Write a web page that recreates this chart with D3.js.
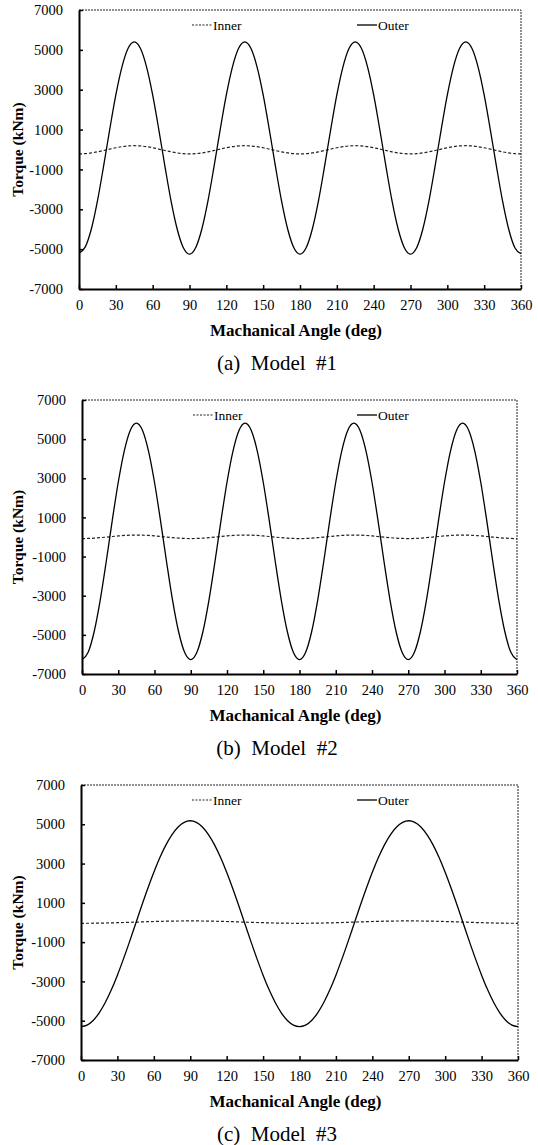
<!DOCTYPE html>
<html><head><meta charset="utf-8">
<script src="https://cdn.jsdelivr.net/npm/d3@7"></script>
<style>
html,body{margin:0;padding:0;background:#fff;}
svg text{font-family:"Liberation Serif","Times New Roman",serif;fill:#000;}
</style></head>
<body>
<svg id="chart" width="538" height="1145"></svg>
<script>
// ---------- data ----------
const angles = d3.range(0, 361, 5); // mechanical angle samples (deg)
const xTicks = [0,30,60,90,120,150,180,210,240,270,300,330,360];
const yTicks = [7000,5000,3000,1000,-1000,-3000,-5000,-7000];
const seriesNames = ["Inner","Outer"];
const captions = ["(a)  Model  #1","(b)  Model  #2","(c)  Model  #3"];

const outer1 = [-5200,-4900,-4000,-2590,-850,1000,2740,4150,5080,5400,5080,4150,2740,1000,-850,-2590,-4000,-4930,
  -5250,-4930,-4000,-2590,-850,1000,2740,4150,5080,5400,5080,4150,2740,1000,-850,-2590,-4000,-4930,
  -5250,-4930,-4000,-2590,-850,1000,2740,4150,5080,5400,5080,4150,2740,1000,-850,-2590,-4000,-4930,
  -5250,-4930,-4000,-2590,-850,1000,2740,4150,5080,5400,5080,4150,2740,1000,-850,-2590,-4000,-4930,-5230];
const inner1 = [-220,-208,-172,-118,-51,21,88,142,178,190,178,142,88,21,-51,-118,-172,-208,
  -220,-208,-172,-118,-51,21,88,142,178,190,178,142,88,21,-51,-118,-172,-208,
  -220,-208,-172,-118,-51,21,88,142,178,190,178,142,88,21,-51,-118,-172,-208,
  -220,-208,-172,-118,-51,21,88,142,178,190,178,142,88,21,-51,-118,-172,-208,-220];
const outer2 = [-6270,-5907,-4855,-3248,-1277,827,2798,4405,5457,5820,5457,4405,2798,827,-1277,-3248,-4855,-5907,
  -6270,-5907,-4855,-3248,-1277,827,2798,4405,5457,5820,5457,4405,2798,827,-1277,-3248,-4855,-5907,
  -6270,-5907,-4855,-3248,-1277,827,2798,4405,5457,5820,5457,4405,2798,827,-1277,-3248,-4855,-5907,
  -6270,-5907,-4855,-3248,-1277,827,2798,4405,5457,5820,5457,4405,2798,827,-1277,-3248,-4855,-5907,-6270];
const inner2 = [-80,-75,-59,-35,-6,26,55,79,95,100,95,79,55,26,-6,-35,-59,-75,
  -80,-75,-59,-35,-6,26,55,79,95,100,95,79,55,26,-6,-35,-59,-75,
  -80,-75,-59,-35,-6,26,55,79,95,100,95,79,55,26,-6,-35,-59,-75,
  -80,-75,-59,-35,-6,26,55,79,95,100,95,79,55,26,-6,-35,-59,-75,-80];
const outer3 = [-5300,-5221,-4986,-4598,-4074,-3429,-2680,-1852,-972,-60,852,1732,2560,3309,3954,4478,4866,5101,
  5180,5101,4866,4478,3954,3309,2560,1732,852,-60,-972,-1852,-2680,-3429,-4074,-4598,-4986,-5221,
  -5300,-5221,-4986,-4598,-4074,-3429,-2680,-1852,-972,-60,852,1732,2560,3309,3954,4478,4866,5101,
  5180,5101,4866,4478,3954,3309,2560,1732,852,-60,-972,-1852,-2680,-3429,-4074,-4598,-4986,-5221,-5300];
const inner3 = [-40,-39,-36,-32,-26,-19,-10,-1,10,20,30,41,50,59,66,72,76,79,
  80,79,76,72,66,59,50,41,30,20,10,-1,-10,-19,-26,-32,-36,-39,
  -40,-39,-36,-32,-26,-19,-10,-1,10,20,30,41,50,59,66,72,76,79,
  80,79,76,72,66,59,50,41,30,20,10,-1,-10,-19,-26,-32,-36,-39,-40];

const panelData = [
  {inner: inner1, outer: outer1, caption: captions[0]},
  {inner: inner2, outer: outer2, caption: captions[1]},
  {inner: inner3, outer: outer3, caption: captions[2]}
];

// ---------- layout ----------
const layout = [
  {left:79, right:521, top:10,  bottom:289,  legInner:192, legOuter:357},
  {left:82, right:517, top:400, bottom:674,  legInner:193, legOuter:357},
  {left:81, right:518, top:785, bottom:1060, legInner:192, legOuter:357}
];

const svg = d3.select("#chart");
const fmt = d => String(d);

panelData.forEach((pd, i) => {
  const L = layout[i];
  const x = d3.scaleLinear().domain([0,360]).range([L.left, L.right]);
  const y = d3.scaleLinear().domain([-7000,7000]).range([L.bottom, L.top]);
  const g = svg.append("g");

  // dashed top and right border
  g.append("path")
    .attr("d", `M${L.left},${L.top}H${L.right}V${L.bottom}`)
    .attr("fill","none").attr("stroke","#222").attr("stroke-width",1)
    .attr("stroke-dasharray","2,1");

  // lines
  const line = d3.line().x((d,j)=>x(angles[j])).y(d=>y(d)).curve(d3.curveMonotoneX);
  g.append("path").datum(pd.inner).attr("d", line)
    .attr("fill","none").attr("stroke","#222").attr("stroke-width",1.2)
    .attr("stroke-dasharray","3,2");
  g.append("path").datum(pd.outer).attr("d", line)
    .attr("fill","none").attr("stroke","#000").attr("stroke-width",1.3);

  // y axis
  const yAx = g.append("g").attr("transform",`translate(${L.left},0)`)
    .call(d3.axisLeft(y).tickValues(yTicks).tickSizeInner(-4).tickSizeOuter(0).tickPadding(16).tickFormat(fmt));
  yAx.attr("font-family",null);
  yAx.select(".domain").attr("stroke","#000").attr("stroke-width",2);
  yAx.selectAll(".tick line").attr("stroke","#000").attr("stroke-width",1.5);
  yAx.selectAll(".tick text").attr("font-size",14.5);

  // x axis
  const xAx = g.append("g").attr("transform",`translate(0,${L.bottom})`)
    .call(d3.axisBottom(x).tickValues(xTicks).tickSizeInner(-4).tickSizeOuter(0).tickPadding(11).tickFormat(fmt));
  xAx.attr("font-family",null);
  xAx.select(".domain").attr("stroke","#000").attr("stroke-width",2);
  xAx.selectAll(".tick line").attr("stroke","#000").attr("stroke-width",1.5);
  xAx.selectAll(".tick text").attr("font-size",14.5);

  // axis titles
  g.append("text").attr("x", (L.left+L.right)/2 - 4).attr("y", L.bottom + 47)
    .attr("text-anchor","middle").attr("font-size",17).attr("font-weight","bold")
    .text("Machanical Angle (deg)");
  g.append("text").attr("transform",`translate(23,${(L.top+L.bottom)/2}) rotate(-90)`)
    .attr("text-anchor","middle").attr("font-size",15.5).attr("font-weight","bold")
    .text("Torque (kNm)");

  // legend
  const ly = L.top + 15;
  g.append("line").attr("x1",L.legInner).attr("x2",L.legInner+20).attr("y1",ly).attr("y2",ly)
    .attr("stroke","#222").attr("stroke-width",1.1).attr("stroke-dasharray","2,1.5");
  g.append("text").attr("x",L.legInner+21).attr("y",ly+4.5).attr("font-size",13.5).text(seriesNames[0]);
  g.append("line").attr("x1",L.legOuter).attr("x2",L.legOuter+20).attr("y1",ly).attr("y2",ly)
    .attr("stroke","#000").attr("stroke-width",1.3);
  g.append("text").attr("x",L.legOuter+21).attr("y",ly+4.5).attr("font-size",13.5).text(seriesNames[1]);

  // caption
  g.append("text").attr("x",277).attr("y", L.bottom + 81)
    .attr("text-anchor","middle").attr("font-size",21)
    .style("white-space","pre").attr("fill","#222")
    .text(pd.caption);
});
</script>
</body></html>
